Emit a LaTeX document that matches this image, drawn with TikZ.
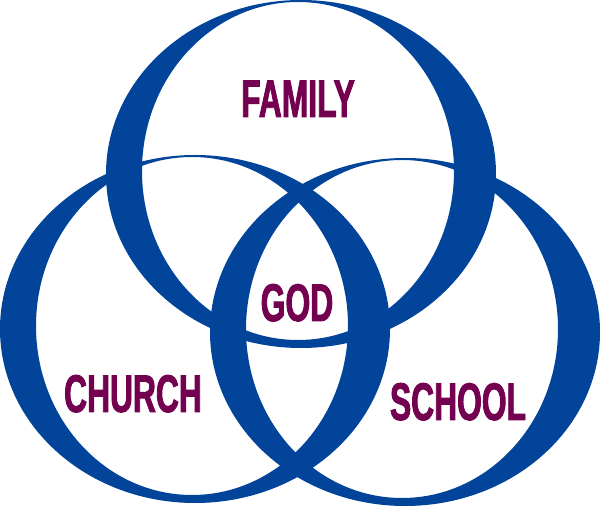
\documentclass[tikz,border=0pt]{standalone}
\usepackage{fontspec}
\newfontfamily\ringfont[FakeStretch=0.6, FakeBold=1.6]{Liberation Sans}
\definecolor{ringblue}{HTML}{02449A}
\definecolor{wordred}{HTML}{740050}
\tikzset{
  ring/.style={fill=ringblue, even odd rule},
  word/.style={text=wordred, font=\ringfont\bfseries\fontsize{53}{53}\selectfont,
    inner sep=0pt, anchor=base}
}

\begin{document}
\begin{tikzpicture}[x=1pt, y=1pt]
\useasboundingbox (0,0) rectangle (600,508);

% ---- anillos ----
\fill[ring] (301,334) ellipse [x radius=195, y radius=174]
            (298,337) ellipse [x radius=156, y radius=169];
\fill[ring] (195,179) ellipse [x radius=195, y radius=174]
            (192,182) ellipse [x radius=156, y radius=169];
\fill[ring] (405,176) ellipse [x radius=195, y radius=174]
            (402,179) ellipse [x radius=156, y radius=169];

% ---- textos ----
\node[word] (family) at (298,391) {FAMILY};
\node[word] (god) at (297,187) {GOD};
\node[word] (church) at (133,96) {CHURCH};
\node[word] (school) at (458,88) {SCHOOL};

\end{tikzpicture}
\end{document}
